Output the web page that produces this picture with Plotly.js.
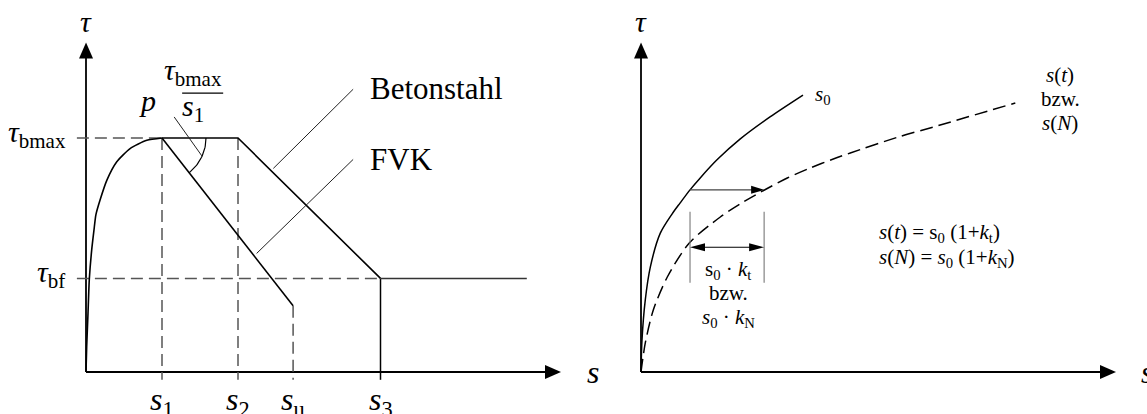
<!DOCTYPE html>
<html>
<head>
<meta charset="utf-8">
<script src="https://cdn.plot.ly/plotly-3.0.1.min.js"></script>
<style>
  html, body { margin: 0; padding: 0; background: #fff; }
  #chart { width: 1147px; height: 414px; }
</style>
</head>
<body>
<div id="chart"></div>
<script>
// ---------- Left panel: bond stress–slip law (Betonstahl vs. FVK) ----------
const slipPoints   = [2.0, 4.0, 5.45, 7.75];           // s1, s2, su, s3
const slipLabels   = ['<i>s</i><sub>1</sub>', '<i>s</i><sub>2</sub>', '<i>s</i><sub>u</sub>', '<i>s</i><sub>3</sub>'];
const tauLevels    = [6.0, 2.4];                        // tau_bmax, tau_bf
const tauLabels    = ['<i>τ</i><sub>bmax</sub>', '<i>τ</i><sub>bf</sub>'];
const tauFvkEnd    = 1.7;                               // bond stress at su (FRP)
const slipResEnd   = 11.6;                              // end of residual branch

// ascending branch up to (s1, tau_bmax)
const ascSlip = [0, 0.018, 0.053, 0.087, 0.15, 0.21, 0.26, 0.37, 0.55, 0.81, 1.16, 1.60, 2.0];
const ascTau  = [0, 0.64, 1.51, 2.38, 3.13, 3.64, 4.03, 4.41, 4.92, 5.39, 5.73, 5.94, 6.0];

// ---------- Right panel: slip growth under sustained / cyclic load ----------
const s0Slip = [0, 0.026, 0.113, 0.245, 0.508, 0.816, 1.026, 1.29, 1.553, 2.0, 2.605, 3.395, 4.263];
const s0Tau  = [0, 0.82, 1.85, 2.69, 3.56, 4.05, 4.33, 4.67, 4.97, 5.44, 5.97, 6.54, 7.1];
const stSlip = [0, 0.113, 0.324, 0.692, 1.271, 2.087, 2.692, 3.297, 3.85, 4.455, 5.061, 5.508, 6.771, 7.692, 9.85];
const stTau  = [0, 0.744, 1.59, 2.436, 3.308, 3.974, 4.359, 4.692, 4.974, 5.231, 5.462, 5.615, 6.026, 6.282, 6.897];
const shiftTau  = 4.67;           // level of the shift arrow s0 -> s(t)
const shiftSpan = [1.29, 3.24];   // s0 and s(t) at that level
const dimTau    = 3.2;            // level of the s0·k dimension line
const dimBar    = [2.29, 4.11];   // extent of the dimension bars

// ---------- geometry of the drawing ----------
const W = 1147, H = 414;
const PX = 38, PY = 39;                 // pixels per unit
const ORIGIN_L = [86, 372], ORIGIN_R = [641, 372];
const SPLIT = 0.55;
const AX_TIP_X = 12.5, AX_TIP_Y = 8.45;

const FONT = 'Liberation Serif, Times New Roman, serif';
const INK = '#000';
const GUIDE = '#555';

const xRangeL = [(0 - ORIGIN_L[0]) / PX, (W * SPLIT - ORIGIN_L[0]) / PX];
const xRangeR = [(W * SPLIT - ORIGIN_R[0]) / PX, (W - ORIGIN_R[0]) / PX];
const yRange  = [(ORIGIN_L[1] - H) / PY, ORIGIN_L[1] / PY];

const [s1, s2, sU, s3] = slipPoints;
const [tauBmax, tauBf] = tauLevels;

function line(xs, ys, axis, opts) {
  return Object.assign({
    type: 'scatter', mode: 'lines', x: xs, y: ys,
    xaxis: axis[0], yaxis: axis[1], hoverinfo: 'skip',
    line: { color: INK, width: 1.6 }
  }, opts || {});
}

const L = ['x', 'y'], R = ['x2', 'y2'];
const below = -0.2, leftOver = -0.24;

// angle marker between plateau and FRP softening branch
const phi = Math.atan2((tauBmax - tauFvkEnd) * PY, (sU - s1) * PX);
const arcX = [], arcY = [];
for (let i = 0; i <= 24; i++) {
  const a = phi * i / 24;
  arcX.push(s1 + 44 * Math.cos(a) / PX);
  arcY.push(tauBmax - 44 * Math.sin(a) / PY);
}

const traces = [
  // left axes
  line([0, 0], [0, AX_TIP_Y - 0.2], L, { line: { color: INK, width: 1.8 } }),
  line([0, AX_TIP_X - 0.2], [0, 0], L, { line: { color: INK, width: 1.8 } }),
  // dashed guides
  line([leftOver, s1, null, leftOver, s3, null, s1, s1, null, s2, s2, null, sU, sU],
       [tauBmax, tauBmax, null, tauBf, tauBf, null, tauBmax, below, null, tauBmax, below, null, tauFvkEnd, below],
       L, { line: { color: GUIDE, width: 1.5, dash: '12px,6px' } }),
  // s3 marker
  line([s3, s3], [tauBf, below], L, { line: { color: INK, width: 1.5 } }),
  // ascending branch
  line(ascSlip, ascTau, L, { line: { color: INK, width: 1.6, shape: 'spline', smoothing: 0.6 } }),
  // Betonstahl: plateau, softening, residual
  line([s1, s2, s3], [tauBmax, tauBmax, tauBf], L),
  line([s3, slipResEnd], [tauBf, tauBf], L, { line: { color: '#333', width: 1.5 } }),
  // FVK softening
  line([s1, sU], [tauBmax, tauFvkEnd], L),
  // angle arc
  line(arcX, arcY, L, { line: { color: INK, width: 1.2 } }),
  // leader lines
  line([4.93, 7.03, null, 4.49, 7.03, null, 2.32, 3.05],
       [5.22, 7.25, null, 3.04, 5.45, null, 6.54, 5.54], L, { line: { color: '#222', width: 1 } }),
  // fraction bar
  line([2.53, 3.61], [7.15, 7.15], L, { line: { color: INK, width: 1.2 } }),

  // right axes
  line([0, 0], [0, AX_TIP_Y - 0.2], R, { line: { color: INK, width: 1.8 } }),
  line([0, AX_TIP_X - 0.2], [0, 0], R, { line: { color: INK, width: 1.8 } }),
  // curves
  line(s0Slip, s0Tau, R, { line: { color: INK, width: 1.5, shape: 'spline', smoothing: 0.8 } }),
  line(stSlip, stTau, R, { line: { color: INK, width: 1.5, shape: 'spline', smoothing: 0.8, dash: '13px,6px' } }),
  // shift arrow
  line([shiftSpan[0], shiftSpan[1] - 0.3], [shiftTau, shiftTau], R, { line: { color: '#444', width: 1.1 } }),
  // dimension bars and line
  line([shiftSpan[0], shiftSpan[0], null, shiftSpan[1], shiftSpan[1]],
       [dimBar[0], dimBar[1], null, dimBar[0], dimBar[1]], R, { line: { color: '#777', width: 1.1 } }),
  line([shiftSpan[0] + 0.3, shiftSpan[1] - 0.3], [dimTau, dimTau], R, { line: { color: INK, width: 1.1 } })
];

// filled arrow heads, sized in pixels
function head(ax, x, y, dir, len, hw) {
  let path;
  if (dir === 'right') path = `M0,0 L${-len},${hw} L${-len},${-hw} Z`;
  else if (dir === 'left') path = `M0,0 L${len},${hw} L${len},${-hw} Z`;
  else path = `M0,0 L${hw},${-len} L${-hw},${-len} Z`;
  return {
    type: 'path', xref: ax[0], yref: ax[1], xsizemode: 'pixel', ysizemode: 'pixel',
    xanchor: x, yanchor: y, path: path, fillcolor: INK, line: { width: 0 }, layer: 'above'
  };
}

const shapes = [
  head(L, 0, AX_TIP_Y, 'up', 16, 7),
  head(L, AX_TIP_X, 0, 'right', 16, 7),
  head(R, 0, AX_TIP_Y, 'up', 16, 7),
  head(R, AX_TIP_X, 0, 'right', 16, 7),
  head(R, shiftSpan[1], shiftTau, 'right', 13, 4),
  head(R, shiftSpan[0], dimTau, 'left', 15, 4),
  head(R, shiftSpan[1], dimTau, 'right', 15, 4)
];

function txt(ax, x, y, text, size, xanchor, extra) {
  return Object.assign({
    xref: ax[0], yref: ax[1], x: x, y: y, text: text, showarrow: false,
    xanchor: xanchor || 'center', yanchor: 'middle',
    font: { family: FONT, size: size, color: INK }
  }, extra || {});
}

const annotations = [
  txt(L, 0, 9.0, '<i>τ</i>', 30),
  txt(L, 13.13, 0, '<i>s</i>', 32, 'left'),
  txt(L, -0.47, tauBmax, tauLabels[0], 30, 'right', { yshift: 4 }),
  txt(L, -0.5, tauBf, tauLabels[1], 30, 'right', { yshift: 4 }),
  txt(L, 1.63, 6.97, '<i>p</i>', 30),
  txt(L, 2.82, 7.69, tauLabels[0], 30),
  txt(L, 2.82, 6.77, slipLabels[0], 30),
  txt(L, 7.42, 7.26, 'Betonstahl', 31, 'left'),
  txt(L, 7.42, 5.46, 'FVK', 31, 'left'),

  txt(R, 0, 9.0, '<i>τ</i>', 30),
  txt(R, 13.1, 0, '<i>s</i>', 32, 'left'),
  txt(R, 4.53, 7.1, '<i>s</i><sub>0</sub>', 21, 'left'),
  txt(R, 11.03, 7.62, '<i>s</i>(<i>t</i>)', 21),
  txt(R, 11.03, 7.0, 'bzw.', 21),
  txt(R, 11.03, 6.38, '<i>s</i>(<i>N</i>)', 21),
  txt(R, 2.29, 2.62, 's<sub>0</sub> · <i>k</i><sub>t</sub>', 21),
  txt(R, 2.29, 2.03, 'bzw.', 21),
  txt(R, 2.29, 1.38, '<i>s</i><sub>0</sub> · <i>k</i><sub>N</sub>', 21),
  txt(R, 6.21, 3.56, '<i>s</i>(<i>t</i>) = s<sub>0</sub> (1+<i>k</i><sub>t</sub>)', 21, 'left'),
  txt(R, 6.21, 2.92, '<i>s</i>(<i>N</i>) = <i>s</i><sub>0</sub> (1+<i>k</i><sub>N</sub>)', 21, 'left')
];

slipPoints.forEach((s, i) => annotations.push(txt(L, s, -0.76, slipLabels[i], 32)));

const hidden = { visible: false, showgrid: false, zeroline: false, fixedrange: true };
const layout = {
  width: W, height: H,
  margin: { l: 0, r: 0, t: 0, b: 0 },
  paper_bgcolor: '#fff', plot_bgcolor: '#fff',
  showlegend: false,
  font: { family: FONT },
  xaxis:  Object.assign({ domain: [0, SPLIT], range: xRangeL, anchor: 'y' }, hidden),
  yaxis:  Object.assign({ domain: [0, 1], range: yRange, anchor: 'x' }, hidden),
  xaxis2: Object.assign({ domain: [SPLIT, 1], range: xRangeR, anchor: 'y2' }, hidden),
  yaxis2: Object.assign({ domain: [0, 1], range: yRange, anchor: 'x2' }, hidden),
  shapes: shapes,
  annotations: annotations
};

Plotly.newPlot('chart', traces, layout, { staticPlot: true, displayModeBar: false });
</script>
</body>
</html>
